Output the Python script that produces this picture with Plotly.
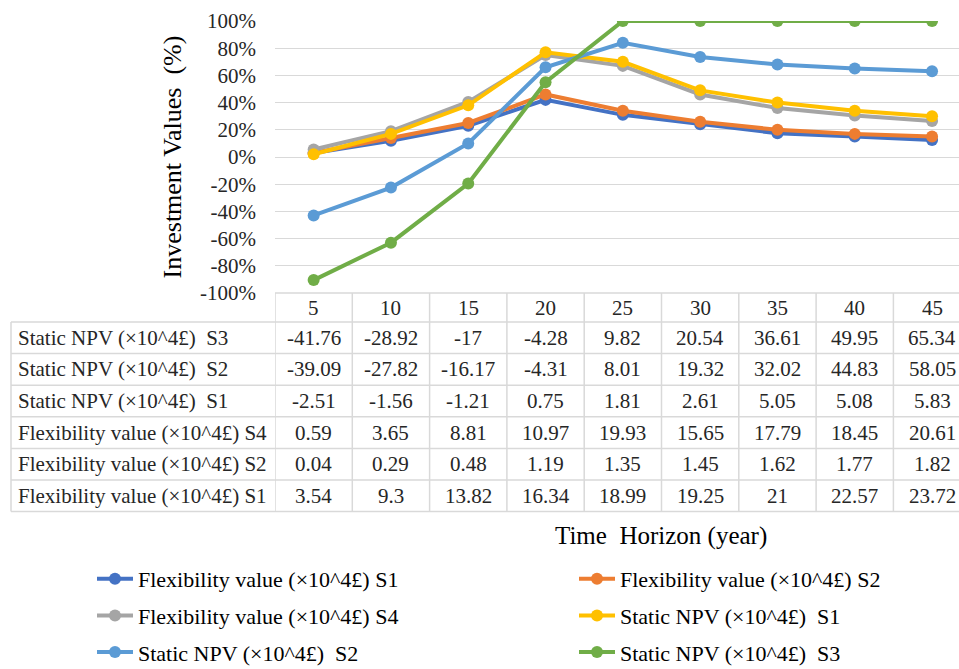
import plotly.graph_objects as go

# ---------------- data ----------------
years = [5, 10, 15, 20, 25, 30, 35, 40, 45]

series_names = [
    "Flexibility value (×10^4£) S1",
    "Flexibility value (×10^4£) S2",
    "Flexibility value (×10^4£) S4",
    "Static NPV (×10^4£)\u00a0 S1",
    "Static NPV (×10^4£)\u00a0 S2",
    "Static NPV (×10^4£)\u00a0 S3",
]
series_colors = ["#4472C4", "#ED7D31", "#A5A5A5", "#FFC000", "#5B9BD5", "#70AD47"]

# plotted percentages
flex_s1_pct = [3, 12, 23, 42, 31, 24, 17.5, 15, 12.5]
flex_s2_pct = [3, 14, 25, 46, 34, 26, 20, 17, 15]
flex_s4_pct = [5.5, 19, 40.5, 75, 67, 46, 36, 30.5, 26.5]
static_s1_pct = [2, 17, 38, 77, 70, 49, 40, 34, 30]
static_s2_pct = [-43, -22.5, 10, 66, 84, 73.5, 68, 65, 63]
static_s3_pct = [-90.5, -63, -19.5, 55, 100, 100, 100, 100, 100]

# data-table values
tbl_static_s3 = [-41.76, -28.92, -17, -4.28, 9.82, 20.54, 36.61, 49.95, 65.34]
tbl_static_s2 = [-39.09, -27.82, -16.17, -4.31, 8.01, 19.32, 32.02, 44.83, 58.05]
tbl_static_s1 = [-2.51, -1.56, -1.21, 0.75, 1.81, 2.61, 5.05, 5.08, 5.83]
tbl_flex_s4 = [0.59, 3.65, 8.81, 10.97, 19.93, 15.65, 17.79, 18.45, 20.61]
tbl_flex_s2 = [0.04, 0.29, 0.48, 1.19, 1.35, 1.45, 1.62, 1.77, 1.82]
tbl_flex_s1 = [3.54, 9.3, 13.82, 16.34, 18.99, 19.25, 21, 22.57, 23.72]

table_labels = [
    "Static NPV (×10^4£)\u00a0 S3",
    "Static NPV (×10^4£)\u00a0 S2",
    "Static NPV (×10^4£)\u00a0 S1",
    "Flexibility value (×10^4£) S4",
    "Flexibility value (×10^4£) S2",
    "Flexibility value (×10^4£) S1",
]
table_rows = [tbl_static_s3, tbl_static_s2, tbl_static_s1, tbl_flex_s4, tbl_flex_s2, tbl_flex_s1]

y_ticks = [-100, -80, -60, -40, -20, 0, 20, 40, 60, 80, 100]
y_tick_text = [f"{v}%" for v in y_ticks]

# ---------------- geometry ----------------
FW, FH = 959, 669
L, T = 275, 21
PLOT_BOTTOM = 293
W = FW - L
H = PLOT_BOTTOM - T
FONT = "Liberation Serif"
GRID = "#d9d9d9"


def py(px):
    return (PLOT_BOTTOM - px) / H


def pxx(px):
    return (px - L) / W


step = years[1] - years[0]
x_lo = years[0] - step / 2
col_px = 77.3
px_per_unit = col_px / step
x_hi = x_lo + W / px_per_unit

fig = go.Figure()

all_pct = [flex_s1_pct, flex_s2_pct, flex_s4_pct, static_s1_pct, static_s2_pct, static_s3_pct]
for i, (name, col, vals) in enumerate(zip(series_names, series_colors, all_pct)):
    fig.add_trace(go.Scatter(
        x=years, y=vals, name=name, mode="lines+markers",
        line=dict(color=col, width=4),
        marker=dict(color=col, size=12, line=dict(width=0)),
        legend="legend" if i % 2 == 0 else "legend2",
        legendgroup="g%d" % i,
    ))

shapes = []
annotations = []

header_top = PLOT_BOTTOM
header_bot = 322
row_h = 31.6
n_rows = len(table_rows)
table_bot = header_bot + n_rows * row_h
label_left = 11
line_style = dict(color=GRID, width=1.5)

# header top border (data columns only)
shapes.append(dict(type="line", xref="x", yref="paper", x0=x_lo, x1=x_lo + step * (len(years) + 1),
                   y0=py(header_top), y1=py(header_top), line=line_style))
# row borders
for r in range(n_rows + 1):
    yy = header_bot + r * row_h
    shapes.append(dict(type="line", xref="paper", yref="paper", x0=pxx(label_left), x1=1.05,
                       y0=py(yy), y1=py(yy), line=line_style))
# vertical borders of data columns
for k in range(len(years) + 1):
    xx = x_lo + k * step
    shapes.append(dict(type="line", xref="x", yref="paper", x0=xx, x1=xx,
                       y0=py(header_top), y1=py(table_bot), line=line_style))
# left border of label column
shapes.append(dict(type="line", xref="paper", yref="paper", x0=pxx(label_left), x1=pxx(label_left),
                   y0=py(header_bot), y1=py(table_bot), line=line_style))

tfont = dict(family=FONT, size=21, color="#262626")
# header categories
for yv in years:
    annotations.append(dict(x=yv, y=py((header_top + header_bot) / 2), xref="x", yref="paper",
                            text=str(yv), showarrow=False, font=tfont,
                            xanchor="center", yanchor="middle"))
# rows
for r, (lab, vals) in enumerate(zip(table_labels, table_rows)):
    yc = py(header_bot + (r + 0.5) * row_h)
    annotations.append(dict(x=pxx(16), y=yc, xref="paper", yref="paper", text=lab,
                            showarrow=False, font=tfont, xanchor="left", yanchor="middle"))
    for yv, v in zip(years, vals):
        annotations.append(dict(x=yv, y=yc, xref="x", yref="paper", text=f"{v:g}",
                                showarrow=False, font=tfont, xanchor="center", yanchor="middle"))

# x-axis title
annotations.append(dict(x=pxx(661), y=py(536), xref="paper", yref="paper",
                        text="Time\u00a0 Horizon (year)", showarrow=False,
                        font=dict(family=FONT, size=25, color="#000000"),
                        xanchor="center", yanchor="middle"))

legend_common = dict(
    orientation="v", traceorder="grouped", tracegroupgap=5,
    font=dict(family=FONT, size=22, color="#000000"),
    bgcolor="rgba(0,0,0,0)", borderwidth=0, itemwidth=36,
    yanchor="top", xanchor="left",
)

fig.update_layout(
    width=FW, height=FH,
    margin=dict(l=L, r=0, t=T, b=FH - PLOT_BOTTOM, pad=0, autoexpand=False),
    paper_bgcolor="white", plot_bgcolor="white",
    font=dict(family=FONT, color="#000000"),
    xaxis=dict(range=[x_lo, x_hi], showgrid=False, zeroline=False, showline=False,
               showticklabels=False, ticks="", fixedrange=True, automargin=False),
    yaxis=dict(range=[-100, 100], tickmode="array", tickvals=y_ticks, ticktext=y_tick_text,
               showgrid=True, gridcolor=GRID, gridwidth=1.3, zeroline=False, showline=False,
               ticks="", ticklabelstandoff=18, automargin=False,
               tickfont=dict(family=FONT, size=21, color="#262626"),
               title=dict(text="Investment Values\u00a0 (%)", standoff=10,
                          font=dict(family=FONT, size=26, color="#000000"))),
    legend=dict(x=pxx(92), y=py(558), **legend_common),
    legend2=dict(x=pxx(574), y=py(558), **legend_common),
    shapes=shapes,
    annotations=annotations,
    showlegend=True,
)

fig.write_html("out.html")
